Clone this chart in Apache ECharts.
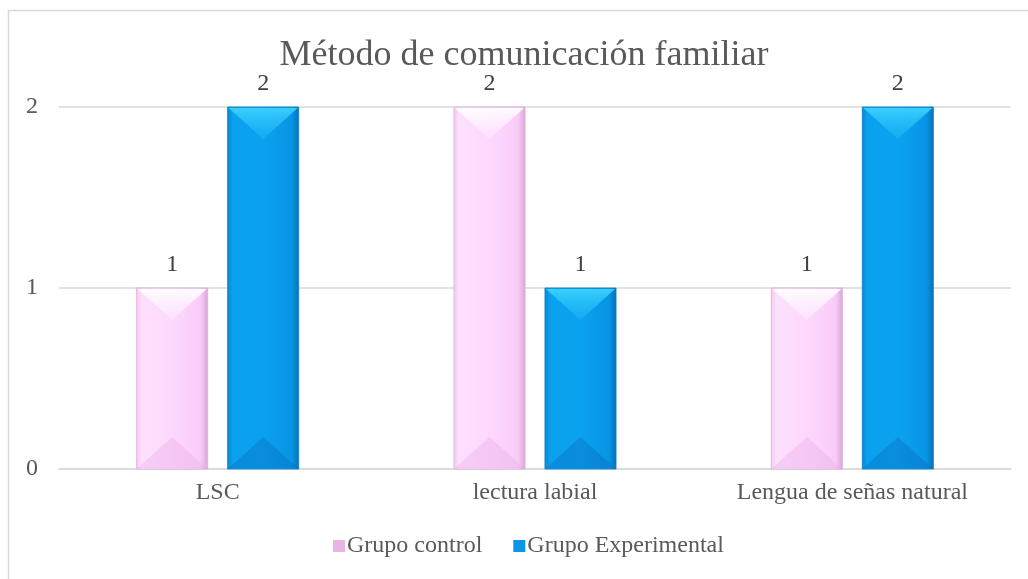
<!DOCTYPE html>
<html>
<head>
<meta charset="utf-8">
<script src="https://cdn.jsdelivr.net/npm/echarts@6/dist/echarts.min.js"></script>
<style>
html,body{margin:0;padding:0;background:#fff;}
#chart{width:1028px;height:579px;}
</style>
</head>
<body>
<div id="chart"></div>
<script>
const categories = ['LSC', 'lectura labial', 'Lengua de señas natural'];
const grupoControl = [1, 2, 1];
const grupoExperimental = [2, 1, 2];
const yTicks = [0, 1, 2];
const seriesNames = ['Grupo control', 'Grupo Experimental'];

const FONT = '"Liberation Serif", "Times New Roman", serif';

const palettes = [
  {
    body: new echarts.graphic.LinearGradient(0, 0, 1, 0, [
      {offset: 0, color: '#f3c8f0'},
      {offset: 0.08, color: '#fde0fd'},
      {offset: 0.5, color: '#fdd8fd'},
      {offset: 0.9, color: '#f9ccf8'},
      {offset: 1, color: '#d8a4d4'}
    ]),
    topTri: new echarts.graphic.LinearGradient(0, 0, 0, 1, [
      {offset: 0, color: 'rgba(255,255,255,0.95)'},
      {offset: 1, color: 'rgba(255,240,255,0.4)'}
    ]),
    botTri: 'rgba(232,170,228,0.35)',
    stroke: '#e2ace0',
    legend: '#e8b4e6'
  },
  {
    body: new echarts.graphic.LinearGradient(0, 0, 1, 0, [
      {offset: 0, color: '#0a86d0'},
      {offset: 0.08, color: '#0aa2ee'},
      {offset: 0.5, color: '#0aa2f0'},
      {offset: 0.9, color: '#0894e4'},
      {offset: 1, color: '#0670b8'}
    ]),
    topTri: new echarts.graphic.LinearGradient(0, 0, 0, 1, [
      {offset: 0, color: 'rgba(60,210,255,0.95)'},
      {offset: 1, color: 'rgba(30,180,245,0.5)'}
    ]),
    botTri: 'rgba(8,110,190,0.4)',
    stroke: '#0a7fc8',
    legend: '#0a96e4'
  }
];

function makeRender(sIdx) {
  return function (params, api) {
    const i = api.value(0), v = api.value(1);
    const top = api.coord([i, v]);
    const base = api.coord([i, 0]);
    const band = api.size([1, 0])[0];
    const w = band * 0.224;
    const gap = w * 0.28;
    const x = sIdx === 0 ? top[0] - gap / 2 - w : top[0] + gap / 2;
    const y = top[1];
    const h = base[1] - top[1];
    const d = w * 0.45;
    const p = palettes[sIdx];
    return {
      type: 'group',
      children: [
        {type: 'rect', shape: {x: x, y: y, width: w, height: h},
         style: {fill: p.body, stroke: p.stroke, lineWidth: 0.8}},
        {type: 'polygon', shape: {points: [[x + 1, y + 1], [x + w - 1, y + 1], [x + w / 2, y + d]]},
         style: {fill: p.topTri}},
        {type: 'polygon', shape: {points: [[x + 1, base[1] - 1], [x + w - 1, base[1] - 1], [x + w / 2, base[1] - d]]},
         style: {fill: p.botTri}},
        {type: 'text', x: x + w / 2, y: y - 11,
         style: {text: String(v), font: '24px ' + FONT, fill: '#404040', align: 'center', verticalAlign: 'bottom'}}
      ]
    };
  };
}

const chart = echarts.init(document.getElementById('chart'), null, {renderer: 'canvas'});
chart.setOption({
  backgroundColor: '#fff',
  animation: false,
  graphic: [{
    type: 'rect', shape: {x: 8.5, y: 10.5, width: 1030, height: 600},
    style: {fill: 'none', stroke: '#d9d9d9', lineWidth: 1.5}, silent: true, z: -1
  }],
  title: {
    text: 'Método de comunicación familiar',
    left: 519, textAlign: 'center', top: 33,
    textStyle: {fontFamily: FONT, fontSize: 36, fontWeight: 'normal', color: '#595959'}
  },
  legend: {
    bottom: 16, left: 328,
    itemWidth: 12, itemHeight: 12, itemGap: 31,
    icon: 'rect',
    textStyle: {fontFamily: FONT, fontSize: 24, color: '#595959', padding: [0, 0, 0, -3]},
    data: [
      {name: seriesNames[0], itemStyle: {color: palettes[0].legend}},
      {name: seriesNames[1], itemStyle: {color: palettes[1].legend}}
    ]
  },
  grid: {left: 59, right: 17, top: 107, bottom: 110, containLabel: false},
  xAxis: {
    type: 'category', data: categories,
    axisLine: {show: true, lineStyle: {color: '#d9d9d9', width: 1.5}},
    axisTick: {show: false},
    axisLabel: {fontFamily: FONT, fontSize: 24, color: '#595959', margin: 12}
  },
  yAxis: {
    type: 'value', min: yTicks[0], max: yTicks[yTicks.length - 1], interval: 1,
    axisLine: {show: false}, axisTick: {show: false},
    splitLine: {lineStyle: {color: '#d9d9d9', width: 1.5}},
    axisLabel: {fontFamily: FONT, fontSize: 24, color: '#595959', margin: 21}
  },
  series: [
    {name: seriesNames[0], type: 'custom', renderItem: makeRender(0),
     itemStyle: {color: palettes[0].legend},
     data: grupoControl.map((v, i) => [i, v]), encode: {x: 0, y: 1}},
    {name: seriesNames[1], type: 'custom', renderItem: makeRender(1),
     itemStyle: {color: palettes[1].legend},
     data: grupoExperimental.map((v, i) => [i, v]), encode: {x: 0, y: 1}}
  ]
});
</script>
</body>
</html>
